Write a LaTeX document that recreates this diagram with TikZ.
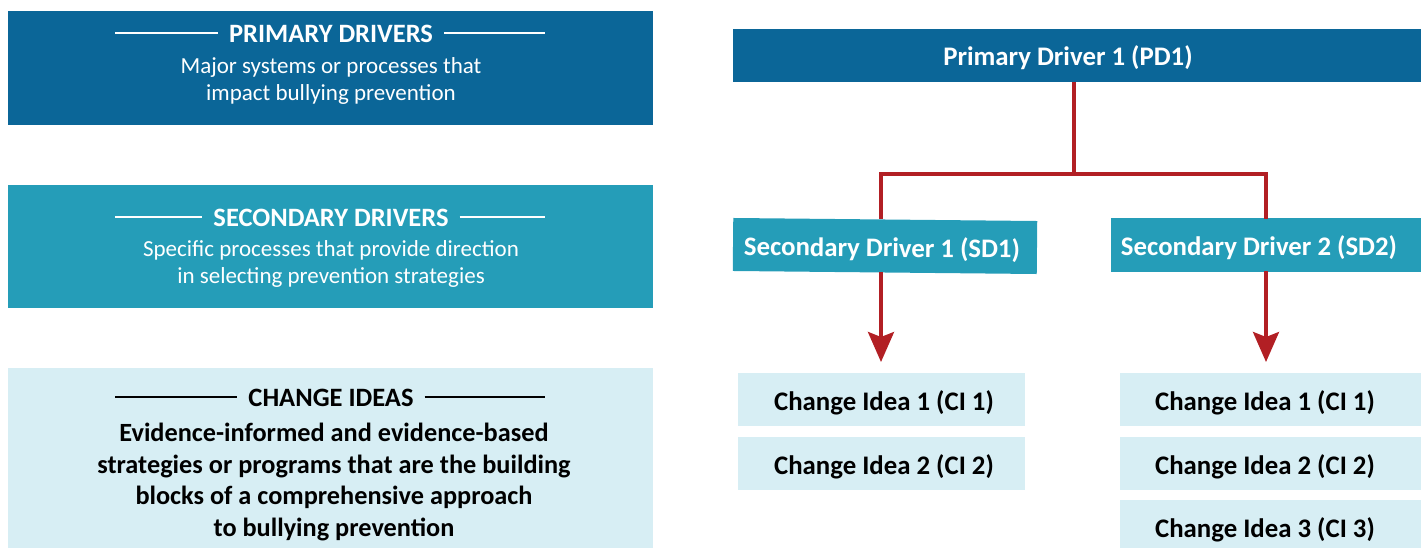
\documentclass[tikz,border=0pt]{standalone}
\usepackage{fontspec}
\setmainfont{Carlito}
\usetikzlibrary{arrows.meta}
\definecolor{pdblue}{HTML}{0B6698}
\definecolor{sdteal}{HTML}{259DB8}
\definecolor{cilight}{HTML}{D7EEF4}
\definecolor{linkred}{HTML}{B21F24}
\tikzset{
  box/.style={draw=none, inner sep=0pt, outer sep=0pt},
  hdr/.style={font=\bfseries\fontsize{26.5}{28}\selectfont, inner xsep=11pt, inner ysep=0pt, anchor=center},
  desc/.style={font=\fontsize{23}{27}\selectfont, align=center, anchor=center, inner sep=0pt},
  descbold/.style={font=\bfseries\fontsize{26.3}{31.5}\selectfont, align=center, anchor=center, inner sep=0pt},
  rule/.style={line width=1.2pt},
  itemtext/.style={font=\bfseries\fontsize{26.8}{28}\selectfont, anchor=center, inner sep=0pt},
  link/.style={draw=linkred, line width=3.5pt},
  arrowlink/.style={link, -{Stealth[length=30pt,width=26pt,inset=5pt]}},
}
\begin{document}
\begin{tikzpicture}[x=1pt,y=-1pt]
\useasboundingbox (0,0) rectangle (1421,548);

% ---- legend column ----
\fill[pdblue] (8,11) rectangle (653,125);
\node[hdr, text=white] (pdh) at (331,34) {PRIMARY DRIVERS};
\draw[rule, white] (115,33) -- (pdh.west |- 0,33);
\draw[rule, white] (pdh.east |- 0,33) -- (545,33);
\node[desc, text=white] (pdd) at (331,81) {Major systems or processes that\\impact bullying prevention};

\fill[sdteal] (8,185) rectangle (653,308);
\node[hdr, text=white] (sdh) at (331,218) {SECONDARY DRIVERS};
\draw[rule, white] (115,217) -- (sdh.west |- 0,217);
\draw[rule, white] (sdh.east |- 0,217) -- (545,217);
\node[desc, text=white] (sdd) at (331,264) {Specific processes that provide direction\\in selecting prevention strategies};

\fill[cilight] (8,368) rectangle (653,548);
\node[hdr, text=black] (cih) at (331,398) {CHANGE IDEAS};
\draw[rule, black] (115,397) -- (cih.west |- 0,397);
\draw[rule, black] (cih.east |- 0,397) -- (545,397);
\node[descbold, text=black] (cid) at (334,482) {Evidence-informed and evidence-based\\strategies or programs that are the building\\blocks of a comprehensive approach\\to bullying prevention};

% ---- driver tree ----
\node[box, fill=pdblue, minimum width=688pt, minimum height=53pt] (pd1) at (1077,55.5) {};
\node[itemtext, text=white] (pd1t) at (1068,58) {Primary Driver 1 (PD1)};

\node[box, fill=sdteal, minimum width=304pt, minimum height=53pt, rotate=-0.57] (sd1) at (885,246) {};
\node[itemtext, text=white, rotate=-0.57] (sd1t) at (882,249) {Secondary Driver 1 (SD1)};

\node[box, fill=sdteal, minimum width=310pt, minimum height=54pt] (sd2) at (1266,245) {};
\node[itemtext, text=white] (sd2t) at (1259,248) {Secondary Driver 2 (SD2)};

\node[box, fill=cilight, minimum width=287pt, minimum height=53pt] (c11) at (881.5,399.5) {};
\node[itemtext] at (884,403) {Change Idea 1 (CI 1)};
\node[box, fill=cilight, minimum width=287pt, minimum height=53pt] (c12) at (881.5,463.5) {};
\node[itemtext] at (884,467) {Change Idea 2 (CI 2)};

\node[box, fill=cilight, minimum width=301pt, minimum height=53pt] (c21) at (1270.5,399.5) {};
\node[itemtext] at (1265,403) {Change Idea 1 (CI 1)};
\node[box, fill=cilight, minimum width=301pt, minimum height=53pt] (c22) at (1270.5,463.5) {};
\node[itemtext] at (1265,467) {Change Idea 2 (CI 2)};
\node[box, fill=cilight, minimum width=301pt, minimum height=48pt] (c23) at (1270.5,524) {};
\node[itemtext] at (1265,530) {Change Idea 3 (CI 3)};

% connectors
\coordinate (split) at (1074,174);
\draw[link] (pd1.south -| split) -- (split);
\draw[link] (879.25,174) -- (1267.75,174);
\draw[link] (881,172.25) -- (881,219);
\draw[link] (1266,172.25) -- (1266,219);
\coordinate (tip1) at (881,362);
\coordinate (tip2) at (1266,362);
\draw[arrowlink] (881,272) -- (tip1);
\draw[arrowlink] (1266,271) -- (tip2);
\end{tikzpicture}
\end{document}
